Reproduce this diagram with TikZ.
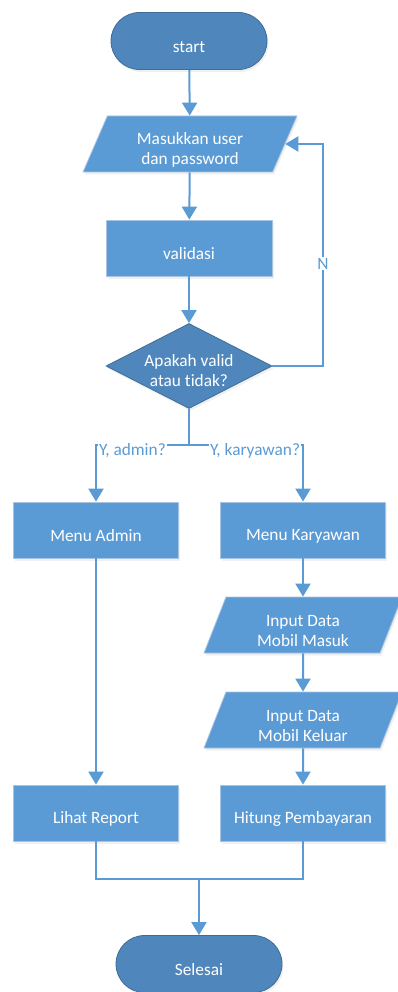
\documentclass[tikz,border=0pt]{standalone}
\usepackage{fontspec}
\setmainfont[Ligatures=NoCommon]{Carlito}
\usepackage{tikz}
\usetikzlibrary{shapes,arrows.meta}
\usetikzlibrary{shapes.geometric,shapes.misc}
\usetikzlibrary{positioning,calc,shadows}
\definecolor{boxblue}{HTML}{5B9BD5}
\definecolor{termblue}{HTML}{4F87BD}
\definecolor{edgeblue}{HTML}{A9C4E2}
\tikzstyle{line} = [draw, boxblue, line width=2pt, -{Triangle[width=15pt,length=13pt]}]
\tikzstyle{plain} = [draw, boxblue, line width=2pt]

\begin{document}
\begin{tikzpicture}[x=1pt, y=1pt,
	every node/.style={font=\fontsize{17.3}{20}\selectfont, align=center},
	shape base/.style={draw=edgeblue, line width=0.8pt, text=white, inner sep=0pt,
		execute at begin node={\rule{0pt}{23pt}},
		drop shadow={opacity=0.12, shadow xshift=1.5pt, shadow yshift=-2.5pt}},
	twoline/.style={execute at begin node={\rule{0pt}{43pt}}},
	box/.style={shape base, rectangle, fill=boxblue,
		minimum width=165pt, minimum height=56pt},
	term/.style={shape base, rounded rectangle, fill=termblue, draw=termblue!80!black,
		minimum height=57pt},
	io/.style={shape base, twoline, trapezium, fill=boxblue, trapezium stretches body,
		minimum height=56pt},
	decide/.style={shape base, diamond, fill=termblue, draw=termblue!80!black,
		execute at begin node={\rule{0pt}{41pt}}, inner sep=-5pt,
		aspect=1.95, minimum width=166pt, minimum height=85pt},
	tag/.style={fill=white, text=boxblue, inner sep=1pt}]
	\useasboundingbox (0,0) rectangle (397,-992);
	%% States
	\node [term, minimum width=156pt] at (189,-41) (start) {start};
	\node [io, minimum width=214pt, trapezium left angle=62, trapezium right angle=118]
		at (190,-144) (login) {Masukkan user\\dan password};
	\node [box, minimum width=166pt] at (189,-248) (valid) {validasi};
	\node [decide] at (189,-366) (cek) {Apakah valid\\atau tidak?};
	\node [box] at (96,-530) (admin) {Menu Admin};
	\node [box] at (303,-530) (karyawan) {Menu Karyawan};
	\node [io, minimum width=198pt, trapezium left angle=63, trapezium right angle=117]
		at (303,-625) (masuk) {Input Data\\Mobil Masuk};
	\node [io, minimum width=198pt, trapezium left angle=63, trapezium right angle=117]
		at (303,-720) (keluar) {Input Data\\Mobil Keluar};
	\node [box] at (96,-813) (report) {Lihat Report};
	\node [box] at (303,-813) (hitung) {Hitung Pembayaran};
	\node [term, minimum width=166pt] at (199,-964) (selesai) {Selesai};
	\coordinate (split) at (189,-445);
	\coordinate (loop) at (323,-366);
	\coordinate (merge) at (199,-879);
	%% Flows
	\path [line] (start) -- (login);
	\path [line] (login) -- (valid);
	\path [line] (valid) -- (cek);
	\path [line] (cek.east) -- (loop) |- node [pos=0.23, tag] {N} (login.east);
	\path [plain] (cek.south) -- (split);
	\path [line] (split) -| node [pos=0.5, tag, anchor=west, xshift=1pt, yshift=-6pt] {Y, admin?} (admin);
	\path [line] (split) -| node [pos=0.5, tag, anchor=east, xshift=-1pt, yshift=-6pt] {Y, karyawan?} (karyawan);
	\path [line] (admin) -- (report);
	\path [line] (karyawan) -- (masuk);
	\path [line] (masuk) -- (keluar);
	\path [line] (keluar) -- (hitung);
	\path [plain] (report.south) |- (merge) -| (hitung.south);
	\path [line] (merge) -- (selesai);
\end{tikzpicture}
\end{document}
